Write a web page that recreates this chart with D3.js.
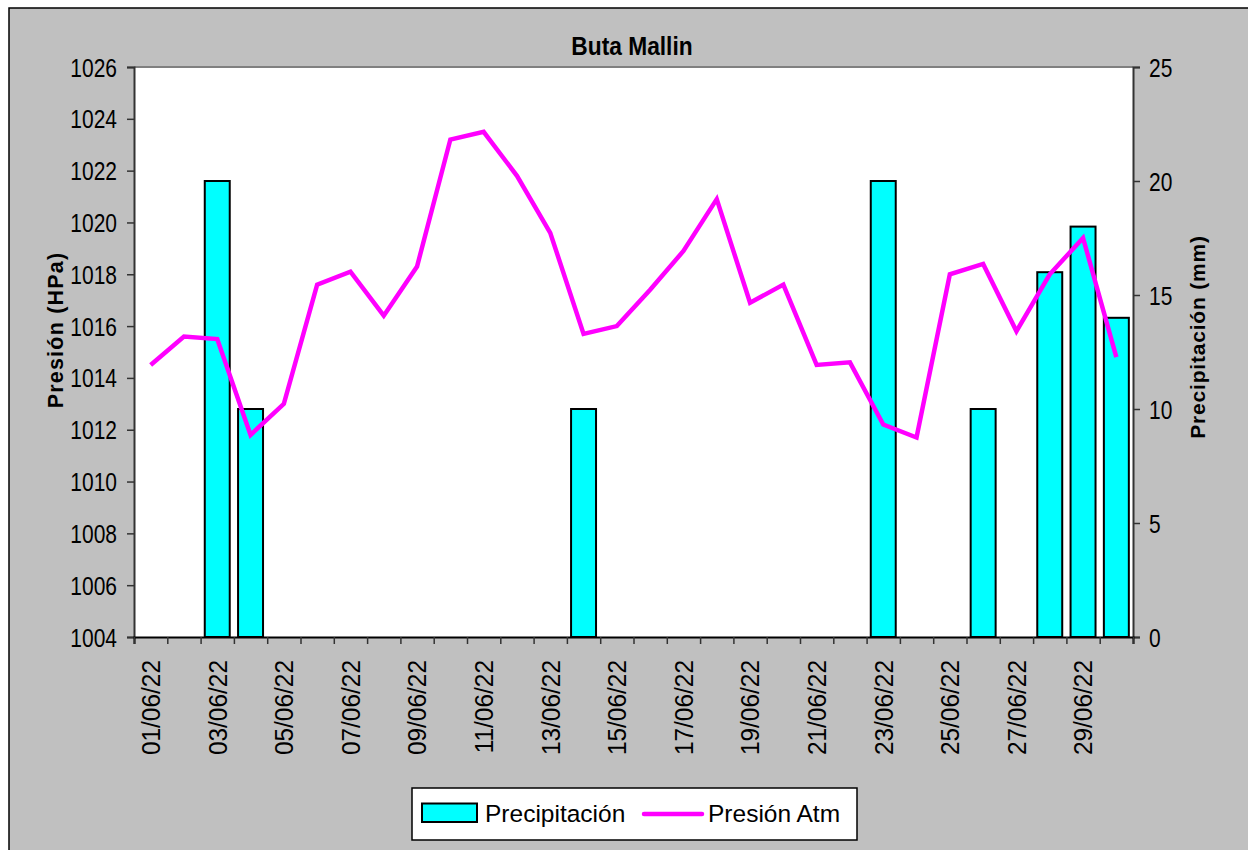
<!DOCTYPE html>
<html>
<head>
<meta charset="utf-8">
<script src="https://cdn.jsdelivr.net/npm/d3@7"></script>
<style>
  body { margin: 0; background: #fff; }
  svg { display: block; font-family: Arial, 'Liberation Sans', sans-serif; }
</style>
</head>
<body>
<div id="chart"></div>
<script>
// datos
const fechas = ['01/06/22','02/06/22','03/06/22','04/06/22','05/06/22','06/06/22','07/06/22','08/06/22',
  '09/06/22','10/06/22','11/06/22','12/06/22','13/06/22','14/06/22','15/06/22','16/06/22','17/06/22',
  '18/06/22','19/06/22','20/06/22','21/06/22','22/06/22','23/06/22','24/06/22','25/06/22','26/06/22',
  '27/06/22','28/06/22','29/06/22','30/06/22'];
const precipitacion = [0, 0, 20, 10, 0, 0, 0, 0, 0, 0, 0, 0, 0, 10, 0, 0, 0, 0, 0, 0, 0, 0, 20, 0, 0, 10, 0, 16, 18, 14];
const presion = [1014.5, 1015.6, 1015.5, 1011.8, 1013.0, 1017.6, 1018.1, 1016.4, 1018.3, 1023.2,
  1023.5, 1021.8, 1019.6, 1015.7, 1016.0, 1017.4, 1018.9, 1020.9, 1016.9, 1017.6,
  1014.5, 1014.6, 1012.2, 1011.7, 1018.0, 1018.4, 1015.8, 1018.0, 1019.4, 1014.8];
const ticksPresion = [1004, 1006, 1008, 1010, 1012, 1014, 1016, 1018, 1020, 1022, 1024, 1026];
const ticksPrecip = [0, 5, 10, 15, 20, 25];
const etiquetasX = ['01/06/22','03/06/22','05/06/22','07/06/22','09/06/22','11/06/22','13/06/22','15/06/22',
  '17/06/22','19/06/22','21/06/22','23/06/22','25/06/22','27/06/22','29/06/22'];

const width = 1248, height = 850;
const plot = { left: 134, right: 1133, top: 67, bottom: 637 };

const svg = d3.select('#chart').append('svg')
  .attr('width', width)
  .attr('height', height);

// fondo gris + marco
svg.append('rect')
  .attr('x', 0).attr('y', 0).attr('width', width).attr('height', height)
  .attr('fill', '#fff');
svg.append('rect')
  .attr('x', 9).attr('y', 8).attr('width', width).attr('height', height)
  .attr('fill', '#c0c0c0')
  .attr('stroke', '#000').attr('stroke-width', 1.5);

// area del grafico
svg.append('rect')
  .attr('x', plot.left).attr('y', plot.top)
  .attr('width', plot.right - plot.left).attr('height', plot.bottom - plot.top)
  .attr('fill', '#fff');
svg.append('line')
  .attr('x1', plot.left).attr('x2', plot.right)
  .attr('y1', plot.top).attr('y2', plot.top)
  .attr('stroke', '#808080').attr('stroke-width', 2);

// escalas
const x = d3.scaleBand()
  .domain(fechas)
  .range([plot.left, plot.right])
  .paddingInner(0.25)
  .paddingOuter(0.125);
const xTicks = d3.scaleLinear().domain([0, fechas.length]).range([plot.left, plot.right]);
const yPres = d3.scaleLinear().domain([1004, 1026]).range([plot.bottom, plot.top]);
const yPrec = d3.scaleLinear().domain([0, 25]).range([plot.bottom, plot.top]);

// barras
svg.append('g')
  .selectAll('rect')
  .data(fechas.map((f, i) => ({ fecha: f, valor: precipitacion[i] })).filter(d => d.valor > 0))
  .enter()
  .append('rect')
    .attr('x', d => x(d.fecha))
    .attr('y', d => yPrec(d.valor))
    .attr('width', x.bandwidth())
    .attr('height', d => yPrec(0) - yPrec(d.valor))
    .attr('fill', '#00ffff')
    .attr('stroke', '#000')
    .attr('stroke-width', 2);

// linea de presion
const linea = d3.line()
  .x((d, i) => x(fechas[i]) + x.bandwidth() / 2)
  .y(d => yPres(d));
svg.append('path')
  .datum(presion)
  .attr('d', linea)
  .attr('fill', 'none')
  .attr('stroke', '#ff00ff')
  .attr('stroke-width', 4.5)
  .attr('stroke-linejoin', 'miter');

// eje izquierdo
const sxY = 0.84;
const ejeIzq = svg.append('g')
  .attr('transform', 'translate(' + plot.left + ',0)')
  .call(d3.axisLeft(yPres).tickValues(ticksPresion).tickSize(7).tickFormat(d3.format('d')));
ejeIzq.select('.domain').attr('stroke', '#333').attr('stroke-width', 2);
ejeIzq.selectAll('.tick line').attr('stroke', '#333').attr('stroke-width', 1.5);
ejeIzq.selectAll('.tick text')
  .attr('font-size', 25)
  .attr('font-family', 'Arial, Liberation Sans, sans-serif')
  .attr('fill', '#000')
  .attr('x', -17 / sxY)
  .attr('dy', '0.36em')
  .attr('transform', 'scale(' + sxY + ',1)');

// eje derecho
const ejeDer = svg.append('g')
  .attr('transform', 'translate(' + plot.right + ',0)')
  .call(d3.axisRight(yPrec).tickValues(ticksPrecip).tickSize(7));
ejeDer.select('.domain').attr('stroke', '#333').attr('stroke-width', 2);
ejeDer.selectAll('.tick line').attr('stroke', '#333').attr('stroke-width', 1.5);
ejeDer.selectAll('.tick text')
  .attr('font-size', 25)
  .attr('font-family', 'Arial, Liberation Sans, sans-serif')
  .attr('fill', '#000')
  .attr('x', 16 / sxY)
  .attr('dy', '0.36em')
  .attr('transform', 'scale(' + sxY + ',1)');

// eje inferior (marcas en los limites de cada dia)
const ejeInf = svg.append('g')
  .attr('transform', 'translate(0,' + plot.bottom + ')')
  .call(d3.axisBottom(xTicks).tickValues(d3.range(fechas.length + 1)).tickSize(7).tickFormat(''));
ejeInf.select('.domain').attr('stroke', '#000').attr('stroke-width', 2);
ejeInf.selectAll('.tick line').attr('stroke', '#333').attr('stroke-width', 1.5);

svg.append('g')
  .selectAll('text')
  .data(etiquetasX)
  .enter()
  .append('text')
    .attr('transform', d => 'translate(' + (x(d) + x.bandwidth() / 2) + ',' + (plot.bottom + 23) + ') rotate(-90) scale(0.94,1)')
    .attr('text-anchor', 'end')
    .attr('dy', '0.36em')
    .attr('font-size', 26)
    .attr('fill', '#000')
    .text(d => d);

// titulos
svg.append('text')
  .attr('transform', 'translate(632,55) scale(0.91,1)')
  .attr('text-anchor', 'middle')
  .attr('font-size', 25)
  .attr('font-weight', 'bold')
  .text('Buta Mallin');

svg.append('text')
  .attr('transform', 'translate(63,330) rotate(-90)')
  .attr('text-anchor', 'middle')
  .attr('font-size', 21.5)
  .attr('font-weight', 'bold')
  .attr('letter-spacing', 1.2)
  .text('Presión (HPa)');

svg.append('text')
  .attr('transform', 'translate(1205,337) rotate(-90)')
  .attr('text-anchor', 'middle')
  .attr('font-size', 21)
  .attr('font-weight', 'bold')
  .attr('letter-spacing', 0.8)
  .text('Precipitación (mm)');

// leyenda
const ley = svg.append('g').attr('transform', 'translate(412,788)');
ley.append('rect')
  .attr('width', 445).attr('height', 52)
  .attr('fill', '#fff')
  .attr('stroke', '#000').attr('stroke-width', 1.5);
ley.append('rect')
  .attr('x', 10).attr('y', 15.5).attr('width', 55).attr('height', 18.5)
  .attr('fill', '#00ffff')
  .attr('stroke', '#000').attr('stroke-width', 2);
ley.append('text')
  .attr('x', 73).attr('y', 33.5)
  .attr('font-size', 24.5)
  .text('Precipitación');
ley.append('line')
  .attr('x1', 232).attr('x2', 290)
  .attr('y1', 26).attr('y2', 26)
  .attr('stroke', '#ff00ff').attr('stroke-width', 4.5)
  .attr('stroke-linecap', 'round');
ley.append('text')
  .attr('x', 296).attr('y', 33.5)
  .attr('font-size', 24.5)
  .text('Presión Atm');
</script>
</body>
</html>
